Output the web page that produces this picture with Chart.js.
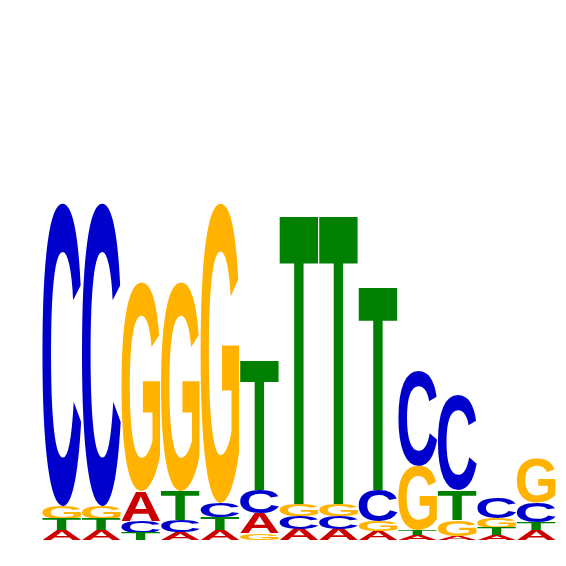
<!DOCTYPE html>
<html>
<head>
<meta charset="utf-8">
<script src="https://cdn.jsdelivr.net/npm/chart.js@4.4.1/dist/chart.umd.min.js"></script>
<style>
  html, body { margin: 0; padding: 0; background: #ffffff; }
  #logo { display: block; }
</style>
</head>
<body>
<canvas id="logo" width="566" height="566"></canvas>
<script>
// motif positions
const positions = ['1', '2', '3', '4', '5', '6', '7', '8', '9', '10', '11', '12', '13'];

// letter heights in bits, per position
const heightA = [0.040, 0.040, 0.120, 0.032, 0.040, 0.080, 0.044, 0.044, 0.036, 0.020, 0.016, 0.020, 0.040];
const heightC = [1.212, 1.212, 0.048, 0.048, 0.056, 0.092, 0.052, 0.052, 0.124, 0.380, 0.380, 0.084, 0.076];
const heightG = [0.052, 0.052, 0.836, 0.836, 1.200, 0.028, 0.048, 0.048, 0.040, 0.256, 0.064, 0.040, 0.180];
const heightT = [0.044, 0.044, 0.028, 0.116, 0.052, 0.520, 1.160, 1.160, 0.816, 0.020, 0.120, 0.028, 0.032];

// stacking order, bottom to top, per position
const stackOrder = ['ATGC', 'ATGC', 'TCAG', 'ACTG', 'ATCG', 'GACT', 'ACGT', 'ACGT', 'AGCT', 'ATGC', 'AGTC', 'ATGC', 'ATCG'];

const letters = ['A', 'C', 'G', 'T'];
const letterColors = { A: '#CC0000', C: '#0000CC', G: '#FFB300', T: '#008000' };
const heights = { A: heightA, C: heightC, G: heightG, T: heightT };

// build floating bar ranges [bottom, top] from the heights and order
function buildRanges(letter) {
    return positions.map((p, i) => {
        let base = 0;
        for (const l of stackOrder[i]) {
            if (l === letter) return [base, base + heights[l][i]];
            base += heights[l][i];
        }
        return [0, 0];
    });
}

// draw each letter stretched into its bar rectangle
const letterPlugin = {
    id: 'letterPlugin',
    afterDatasetsDraw(chart) {
        const ctx = chart.ctx;
        ctx.save();
        ctx.font = 'bold 200px "Liberation Sans", Arial, sans-serif';
        ctx.textAlign = 'left';
        ctx.textBaseline = 'alphabetic';
        chart.data.datasets.forEach((ds, di) => {
            const meta = chart.getDatasetMeta(di);
            const m = ctx.measureText(ds.label);
            const gw = m.actualBoundingBoxLeft + m.actualBoundingBoxRight;
            const gh = m.actualBoundingBoxAscent + m.actualBoundingBoxDescent;
            meta.data.forEach(bar => {
                const p = bar.getProps(['x', 'y', 'base', 'width'], true);
                const top = Math.min(p.y, p.base);
                const h = Math.abs(p.base - p.y);
                if (h < 0.5) return;
                ctx.save();
                ctx.translate(p.x - p.width / 2, top);
                ctx.scale(p.width / gw, h / gh);
                ctx.fillStyle = letterColors[ds.label];
                ctx.fillText(ds.label, m.actualBoundingBoxLeft, m.actualBoundingBoxAscent);
                ctx.restore();
            });
        });
        ctx.restore();
    }
};

new Chart(document.getElementById('logo'), {
    type: 'bar',
    data: {
        labels: positions,
        datasets: letters.map(l => ({
            label: l,
            data: buildRanges(l),
            backgroundColor: 'rgba(0,0,0,0)',
            borderWidth: 0,
            grouped: false,
            categoryPercentage: 1,
            barPercentage: 0.98
        }))
    },
    options: {
        responsive: false,
        animation: false,
        layout: { padding: { left: 42, right: 10, top: 40, bottom: 26 } },
        plugins: {
            legend: { display: false },
            tooltip: { enabled: false }
        },
        scales: {
            x: { display: false },
            y: { display: false, min: 0, max: 2 }
        }
    },
    plugins: [letterPlugin]
});
</script>
</body>
</html>
